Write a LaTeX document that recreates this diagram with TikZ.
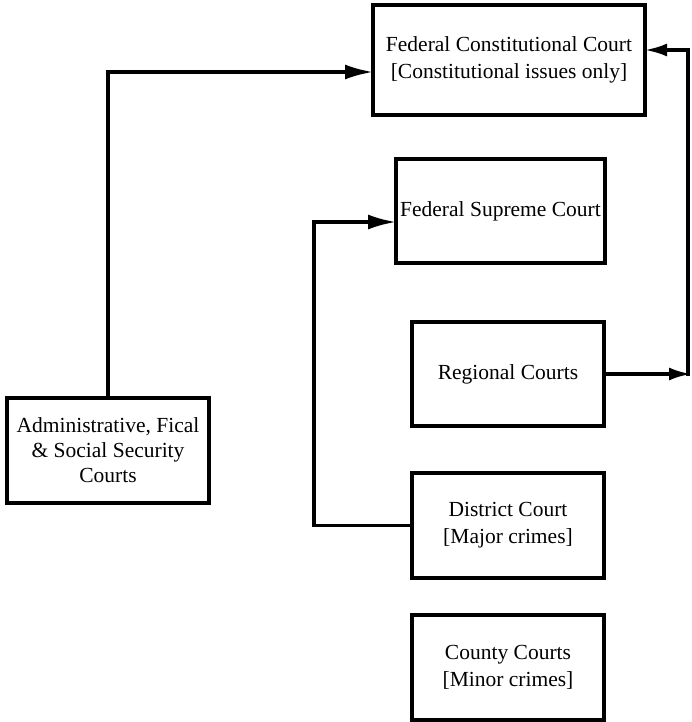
\documentclass[tikz,border=0pt]{standalone}
\usepackage{fontspec}
\setmainfont{Liberation Serif}
\usetikzlibrary{arrows.meta}
\begin{document}
\begin{tikzpicture}[x=1pt,y=-1pt,
  court/.style={draw,line width=4pt,align=center,inner sep=0pt,outer sep=0pt,
    font=\fontsize{21.5}{27}\selectfont},
  conn/.style={line width=3.2pt},
  arr/.style={conn,-{Latex[length=28pt,width=15pt]}},
  arrs/.style={conn,-{Latex[length=22pt,width=13pt]}}]
\useasboundingbox (0,0) rectangle (691,722);
\node[court,minimum width=272pt,minimum height=110pt] (fcc) at (509,60) {Federal Constitutional Court\\{}[Constitutional issues only]};
\node[court,minimum width=209pt,minimum height=104pt] (fsc) at (500.5,211) {Federal Supreme Court};
\node[court,minimum width=192pt,minimum height=104pt] (reg) at (508,374) {Regional Courts};
\node[court,minimum width=192pt,minimum height=105pt] (dis) at (508,525.5) {District Court\\{}[Major crimes]};
\node[court,minimum width=192pt,minimum height=105pt] (cty) at (508,667.5) {County Courts\\{}[Minor crimes]};
\node[court,minimum width=202pt,minimum height=105pt,font=\fontsize{21.5}{25}\selectfont] (adm) at (108,450.5) {Administrative, Fical\\\& Social Security\\Courts};
\coordinate (rc) at (691,374);
\coordinate (vc) at (688,376);
\draw[arr] (adm.north) |- ([yshift=-12pt]fcc.west);
\draw[arr] (dis.west) -| (314,222) -- ([yshift=-11pt]fsc.west);
\draw[arrs] (reg.east) -- (rc);
\draw[arrs] (vc) |- ([yshift=10pt]fcc.east);
\end{tikzpicture}
\end{document}
